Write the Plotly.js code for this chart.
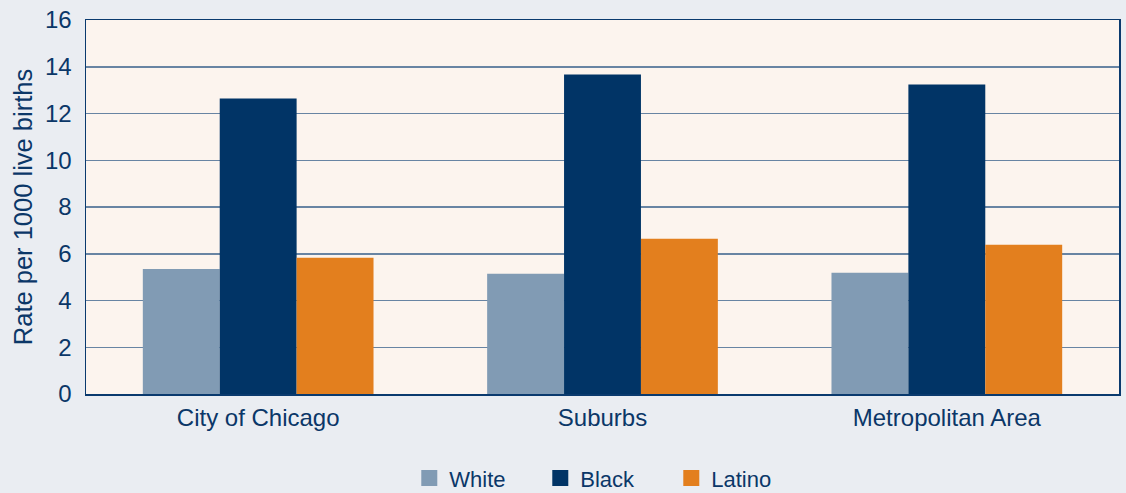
<!DOCTYPE html>
<html>
<head>
<meta charset="utf-8">
<script src="https://cdn.plot.ly/plotly-3.0.1.min.js"></script>
<style>html,body{margin:0;padding:0;background:#eaedf2;}#chart{width:1126px;height:493px;}</style>
</head>
<body>
<div id="chart"></div>
<script>
const categories = ["City of Chicago", "Suburbs", "Metropolitan Area"];
const seriesNames = ["White", "Black", "Latino"];
const white = [5.35, 5.14, 5.19];
const black = [12.64, 13.67, 13.24];
const latino = [5.83, 6.64, 6.39];
const yTickVals = [0, 2, 4, 6, 8, 10, 12, 14, 16];
const colors = ["#819bb4", "#013466", "#e37f1e"];
const values = [white, black, latino];

const txt = "#0b3768";
const fontFam = "Liberation Sans, Arial, sans-serif";

const traces = [];
values.forEach((v, i) => {
  traces.push({
    type: "bar", x: categories, y: v, name: seriesNames[i],
    marker: {color: colors[i], line: {width: 0}},
    showlegend: false, hoverinfo: "y"
  });
});
values.forEach((v, i) => {
  traces.push({
    type: "scatter", mode: "markers", x: [null], y: [null], name: seriesNames[i],
    marker: {symbol: "square", size: 20, color: colors[i]},
    showlegend: true, hoverinfo: "skip"
  });
});

const layout = {
  width: 1126, height: 493,
  paper_bgcolor: "#eaedf2",
  plot_bgcolor: "#fcf4ee",
  margin: {l: 86, r: 7, t: 20, b: 99},
  font: {family: fontFam, color: txt, size: 24},
  barmode: "group",
  bargap: 0.33,
  bargroupgap: 0,
  xaxis: {
    type: "category",
    showgrid: false,
    showline: true, mirror: true, linecolor: "#0a3a6e", linewidth: 1.5,
    ticks: "", ticklabelstandoff: 2,
    tickfont: {size: 24, color: txt}
  },
  yaxis: {
    range: [0, 16],
    tickvals: yTickVals,
    ticktext: yTickVals.map(String),
    showgrid: true, gridcolor: "#6884a3", gridwidth: 1.5,
    zeroline: false,
    showline: true, mirror: true, linecolor: "#0a3a6e", linewidth: 1.5,
    ticks: "", ticklabelstandoff: 8,
    tickfont: {size: 24, color: txt},
    title: {text: "Rate per 1000 live births", font: {size: 25.5, color: txt}, standoff: 5}
  },
  showlegend: true,
  legend: {
    orientation: "h", x: 0.538, xanchor: "center", xref: "container",
    y: 0.03, yanchor: "middle", yref: "container",
    font: {size: 22, color: txt}, itemsizing: "trace",
    bgcolor: "rgba(0,0,0,0)", entrywidth: 86, entrywidthmode: "pixels"
  }
};

Plotly.newPlot("chart", traces, layout, {displayModeBar: false, staticPlot: true});
</script>
</body>
</html>
